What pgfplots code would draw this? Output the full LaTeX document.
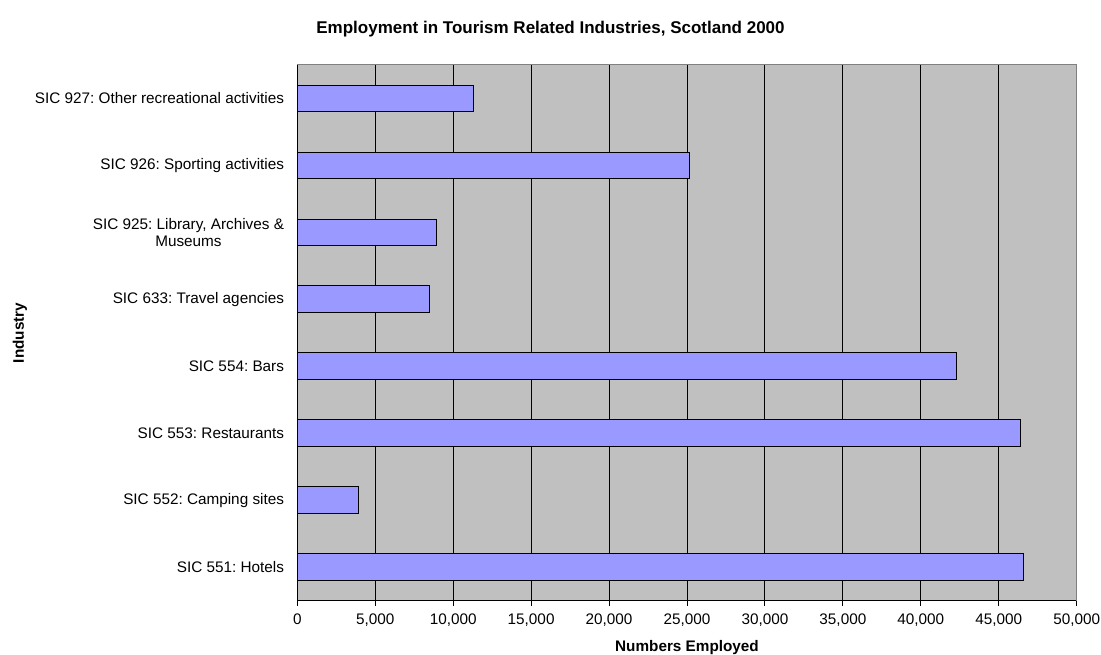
\documentclass[border=0pt]{standalone}
\usepackage{fontspec}
\setmainfont{Liberation Sans}
\usepackage{pgfplots}
\pgfplotsset{compat=1.18}
\definecolor{plotbg}{HTML}{C0C0C0}
\definecolor{barfill}{HTML}{9999FF}
\definecolor{frame}{HTML}{808080}
\frenchspacing
\begin{document}
\fontsize{15.3}{17}\selectfont
\begin{tikzpicture}[x=1pt,y=1pt]
\useasboundingbox (0,0) rectangle (1101,655);
\begin{axis}[
  at={(297.3pt,54.3pt)}, anchor=south west,
  scale only axis, width=779.4pt, height=535.7pt,
  xbar, bar width=0.4,
  xmin=0, xmax=50000, ymin=0.5, ymax=8.5,
  axis x line*=bottom, axis y line*=left,
  axis line style={black, line width=1pt},
  axis background/.style={fill=plotbg},
  xmajorgrids, major grid style={black, line width=1pt},
  xtick={0,5000,...,50000},
  scaled x ticks=false,
  /pgf/number format/.cd, 1000 sep={,}, assume math mode=true,
  /pgfplots/.cd,
  tick align=outside,
  major tick length=5pt, minor tick length=5pt,
  tick style={black, line width=1pt},
  ytick={1,...,8},
  y tick style={draw=none},
  minor ytick={0.5,1.5,...,8.5},
  minor y tick style={black, line width=1pt},
  yticklabels={{SIC 551: Hotels},{SIC 552: Camping sites},{SIC 553: Restaurants},{SIC 554: Bars},{SIC 633: Travel agencies},{SIC 925: Library, Archives \&\\Museums},{SIC 926: Sporting activities},{SIC 927: Other recreational activities}},
  yticklabel style={align=center, font=\fontsize{15.3}{16.5}\selectfont\frenchspacing, xshift=-3pt},
  xticklabel style={font=\fontsize{15.3}{17}\selectfont, yshift=-3pt},
  clip=false,
]
\addplot[fill=barfill, draw=black, line width=1pt] coordinates {
  (46600,1) (3940,2) (46400,3) (42300,4) (8500,5) (8900,6) (25150,7) (11300,8)
};
\draw[frame, line width=1pt] (rel axis cs:0,1) -- (rel axis cs:1,1) -- (rel axis cs:1,0);
\end{axis}
\node[font=\bfseries\fontsize{17}{19}\selectfont] at (550.5,626) {Employment in Tourism Related Industries, Scotland 2000};
\node[font=\bfseries\fontsize{15.3}{17}\selectfont] at (687,7) {Numbers Employed};
\node[font=\bfseries\fontsize{15.3}{17}\selectfont, rotate=90] at (20,322) {Industry};
\end{tikzpicture}
\end{document}
